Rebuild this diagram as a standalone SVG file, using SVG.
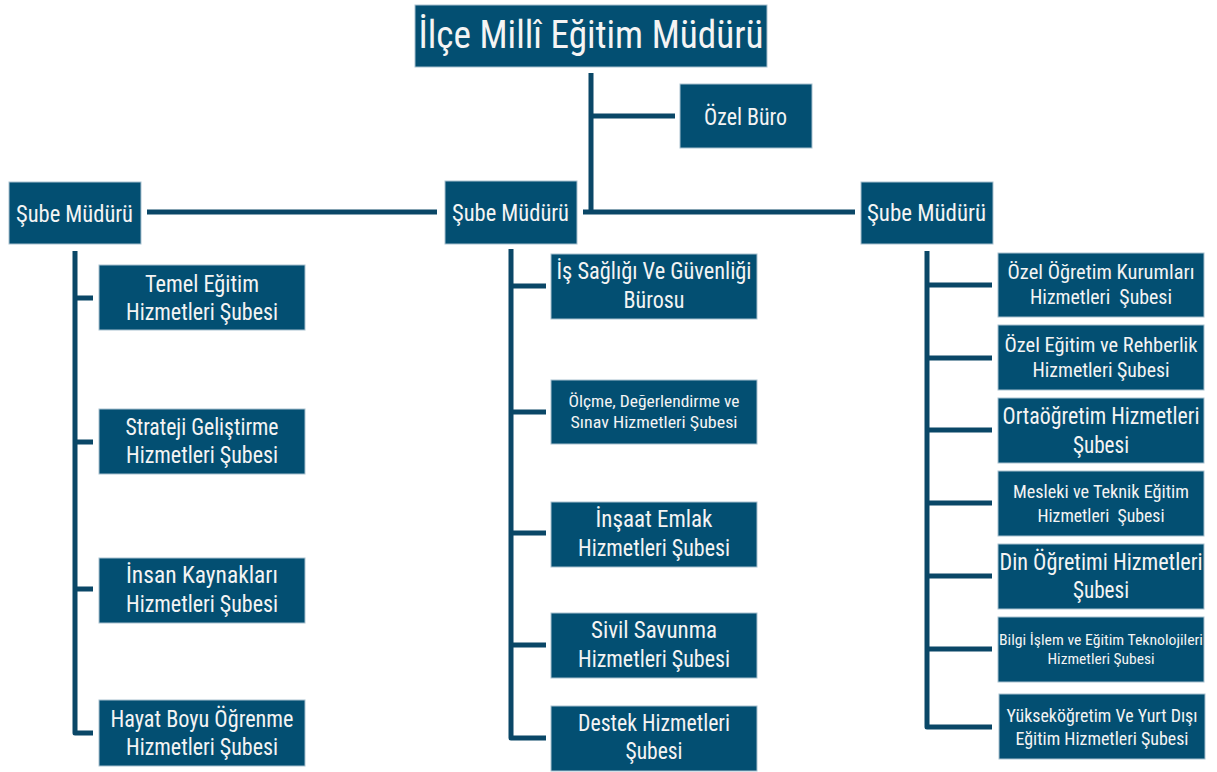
<svg xmlns="http://www.w3.org/2000/svg" width="1217" height="772" viewBox="0 0 1217 772">
<style>
.box{fill:#034F72;stroke:#A9C1CF;stroke-width:1}
.t{fill:#F4F4F4;font-family:"Roboto Condensed","DejaVu Serif Condensed","Liberation Sans",sans-serif;text-anchor:middle}
.c{fill:none;stroke:#0A4767;stroke-width:5;stroke-linejoin:round}
</style>
<rect width="1217" height="772" fill="#FFFFFF"/>
<g id="connectors">
<path class="c" d="M591,73 V212"/>
<path class="c" d="M591,116 H675"/>
<path class="c" stroke-width="4" d="M583,212 H855"/>
<path class="c" stroke-width="4" d="M147,212 H437"/>
<path class="c" d="M75,251 V733 H93 M75,298 H93 M75,442 H93 M75,589 H93"/>
<path class="c" d="M511,249 V738 H546 M511,286 H546 M511,412 H546 M511,533 H546 M511,645 H546"/>
<path class="c" d="M927,251 V727 H992 M927,285 H992 M927,358 H992 M927,430 H992 M927,503 H992 M927,576 H992 M927,649 H992"/>
</g>
<g id="n-root"><rect class="box" x="415" y="5" width="352" height="62"/><text class="t" x="591" y="48" font-size="38" textLength="345" lengthAdjust="spacingAndGlyphs">İlçe Millî Eğitim Müdürü</text></g>
<g id="n-ozel-buro"><rect class="box" x="680" y="84" width="132" height="64"/><text class="t" x="745.5" y="125" font-size="23" textLength="83" lengthAdjust="spacingAndGlyphs">Özel Büro</text></g>
<g id="n-sube-left"><rect class="box" x="9" y="182" width="132" height="62"/><text class="t" x="74.5" y="222" font-size="23" textLength="117" lengthAdjust="spacingAndGlyphs">Şube Müdürü</text></g>
<g id="n-sube-mid"><rect class="box" x="445" y="181" width="132" height="63"/><text class="t" x="510.5" y="221" font-size="23" textLength="117" lengthAdjust="spacingAndGlyphs">Şube Müdürü</text></g>
<g id="n-sube-right"><rect class="box" x="861" y="182" width="132" height="62"/><text class="t" x="926.5" y="221" font-size="23" textLength="119" lengthAdjust="spacingAndGlyphs">Şube Müdürü</text></g>

<g id="n-temel"><rect class="box" x="99" y="265" width="206" height="65"/><text class="t" x="202" y="292" font-size="23" textLength="114" lengthAdjust="spacingAndGlyphs">Temel Eğitim</text><text class="t" x="202" y="320" font-size="23" textLength="152" lengthAdjust="spacingAndGlyphs">Hizmetleri Şubesi</text></g>
<g id="n-strateji"><rect class="box" x="99" y="409" width="206" height="65"/><text class="t" x="202" y="435" font-size="23" textLength="153" lengthAdjust="spacingAndGlyphs">Strateji Geliştirme</text><text class="t" x="202" y="463" font-size="23" textLength="152" lengthAdjust="spacingAndGlyphs">Hizmetleri Şubesi</text></g>
<g id="n-insan"><rect class="box" x="99" y="558" width="206" height="65"/><text class="t" x="202" y="583" font-size="23" textLength="152" lengthAdjust="spacingAndGlyphs">İnsan Kaynakları</text><text class="t" x="202" y="612" font-size="23" textLength="152" lengthAdjust="spacingAndGlyphs">Hizmetleri Şubesi</text></g>
<g id="n-hayat"><rect class="box" x="99" y="700" width="206" height="66"/><text class="t" x="202" y="727" font-size="23" textLength="183" lengthAdjust="spacingAndGlyphs">Hayat Boyu Öğrenme</text><text class="t" x="202" y="755" font-size="23" textLength="152" lengthAdjust="spacingAndGlyphs">Hizmetleri Şubesi</text></g>

<g id="n-is"><rect class="box" x="551" y="254" width="206" height="65"/><text class="t" x="654" y="279" font-size="23" textLength="195" lengthAdjust="spacingAndGlyphs">İş Sağlığı Ve Güvenliği</text><text class="t" x="654" y="308" font-size="23" textLength="61" lengthAdjust="spacingAndGlyphs">Bürosu</text></g>
<g id="n-olcme"><rect class="box" x="551" y="380" width="206" height="64"/><text class="t" x="654" y="407" font-size="17" textLength="171" lengthAdjust="spacingAndGlyphs">Ölçme, Değerlendirme ve</text><text class="t" x="654" y="428" font-size="17" textLength="167" lengthAdjust="spacingAndGlyphs">Sınav Hizmetleri Şubesi</text></g>
<g id="n-insaat"><rect class="box" x="551" y="502" width="206" height="65"/><text class="t" x="654" y="527" font-size="23" textLength="117" lengthAdjust="spacingAndGlyphs">İnşaat Emlak</text><text class="t" x="654" y="556" font-size="23" textLength="152" lengthAdjust="spacingAndGlyphs">Hizmetleri Şubesi</text></g>
<g id="n-sivil"><rect class="box" x="551" y="613" width="206" height="65"/><text class="t" x="654" y="638" font-size="23" textLength="126" lengthAdjust="spacingAndGlyphs">Sivil Savunma</text><text class="t" x="654" y="667" font-size="23" textLength="152" lengthAdjust="spacingAndGlyphs">Hizmetleri Şubesi</text></g>
<g id="n-destek"><rect class="box" x="551" y="706" width="206" height="65"/><text class="t" x="654" y="731" font-size="23" textLength="152" lengthAdjust="spacingAndGlyphs">Destek Hizmetleri</text><text class="t" x="654" y="759" font-size="23" textLength="57" lengthAdjust="spacingAndGlyphs">Şubesi</text></g>

<g id="n-ozel-ogretim"><rect class="box" x="998" y="253" width="206" height="64"/><text class="t" x="1101" y="279" font-size="20" textLength="187" lengthAdjust="spacingAndGlyphs">Özel Öğretim Kurumları</text><text class="t" x="1101" y="304" font-size="20" textLength="142" lengthAdjust="spacingAndGlyphs" xml:space="preserve">Hizmetleri  Şubesi</text></g>
<g id="n-ozel-egitim"><rect class="box" x="998" y="325" width="206" height="65"/><text class="t" x="1101" y="352" font-size="21" textLength="193" lengthAdjust="spacingAndGlyphs">Özel Eğitim ve Rehberlik</text><text class="t" x="1101" y="377" font-size="21" textLength="137" lengthAdjust="spacingAndGlyphs">Hizmetleri Şubesi</text></g>
<g id="n-ortaogretim"><rect class="box" x="998" y="398" width="206" height="65"/><text class="t" x="1101" y="424" font-size="24" textLength="197" lengthAdjust="spacingAndGlyphs">Ortaöğretim Hizmetleri</text><text class="t" x="1101" y="453" font-size="24" textLength="56" lengthAdjust="spacingAndGlyphs">Şubesi</text></g>
<g id="n-mesleki"><rect class="box" x="998" y="471" width="206" height="65"/><text class="t" x="1101" y="498" font-size="18" textLength="176" lengthAdjust="spacingAndGlyphs">Mesleki ve Teknik Eğitim</text><text class="t" x="1101" y="522" font-size="18" textLength="127" lengthAdjust="spacingAndGlyphs" xml:space="preserve">Hizmetleri  Şubesi</text></g>
<g id="n-din"><rect class="box" x="998" y="544" width="206" height="65"/><text class="t" x="1101" y="570" font-size="24" textLength="203" lengthAdjust="spacingAndGlyphs">Din Öğretimi Hizmetleri</text><text class="t" x="1101" y="598" font-size="24" textLength="56" lengthAdjust="spacingAndGlyphs">Şubesi</text></g>
<g id="n-bilgi"><rect class="box" x="998" y="617" width="206" height="65"/><text class="t" x="1101" y="645" font-size="15" textLength="204" lengthAdjust="spacingAndGlyphs">Bilgi İşlem ve Eğitim Teknolojileri</text><text class="t" x="1101" y="664" font-size="15" textLength="107" lengthAdjust="spacingAndGlyphs">Hizmetleri Şubesi</text></g>
<g id="n-yuksek"><rect class="box" x="999" y="694" width="206" height="65"/><text class="t" x="1102" y="722" font-size="18" textLength="191" lengthAdjust="spacingAndGlyphs">Yükseköğretim Ve Yurt Dışı</text><text class="t" x="1102" y="745" font-size="18" textLength="173" lengthAdjust="spacingAndGlyphs">Eğitim Hizmetleri Şubesi</text></g>
</svg>
